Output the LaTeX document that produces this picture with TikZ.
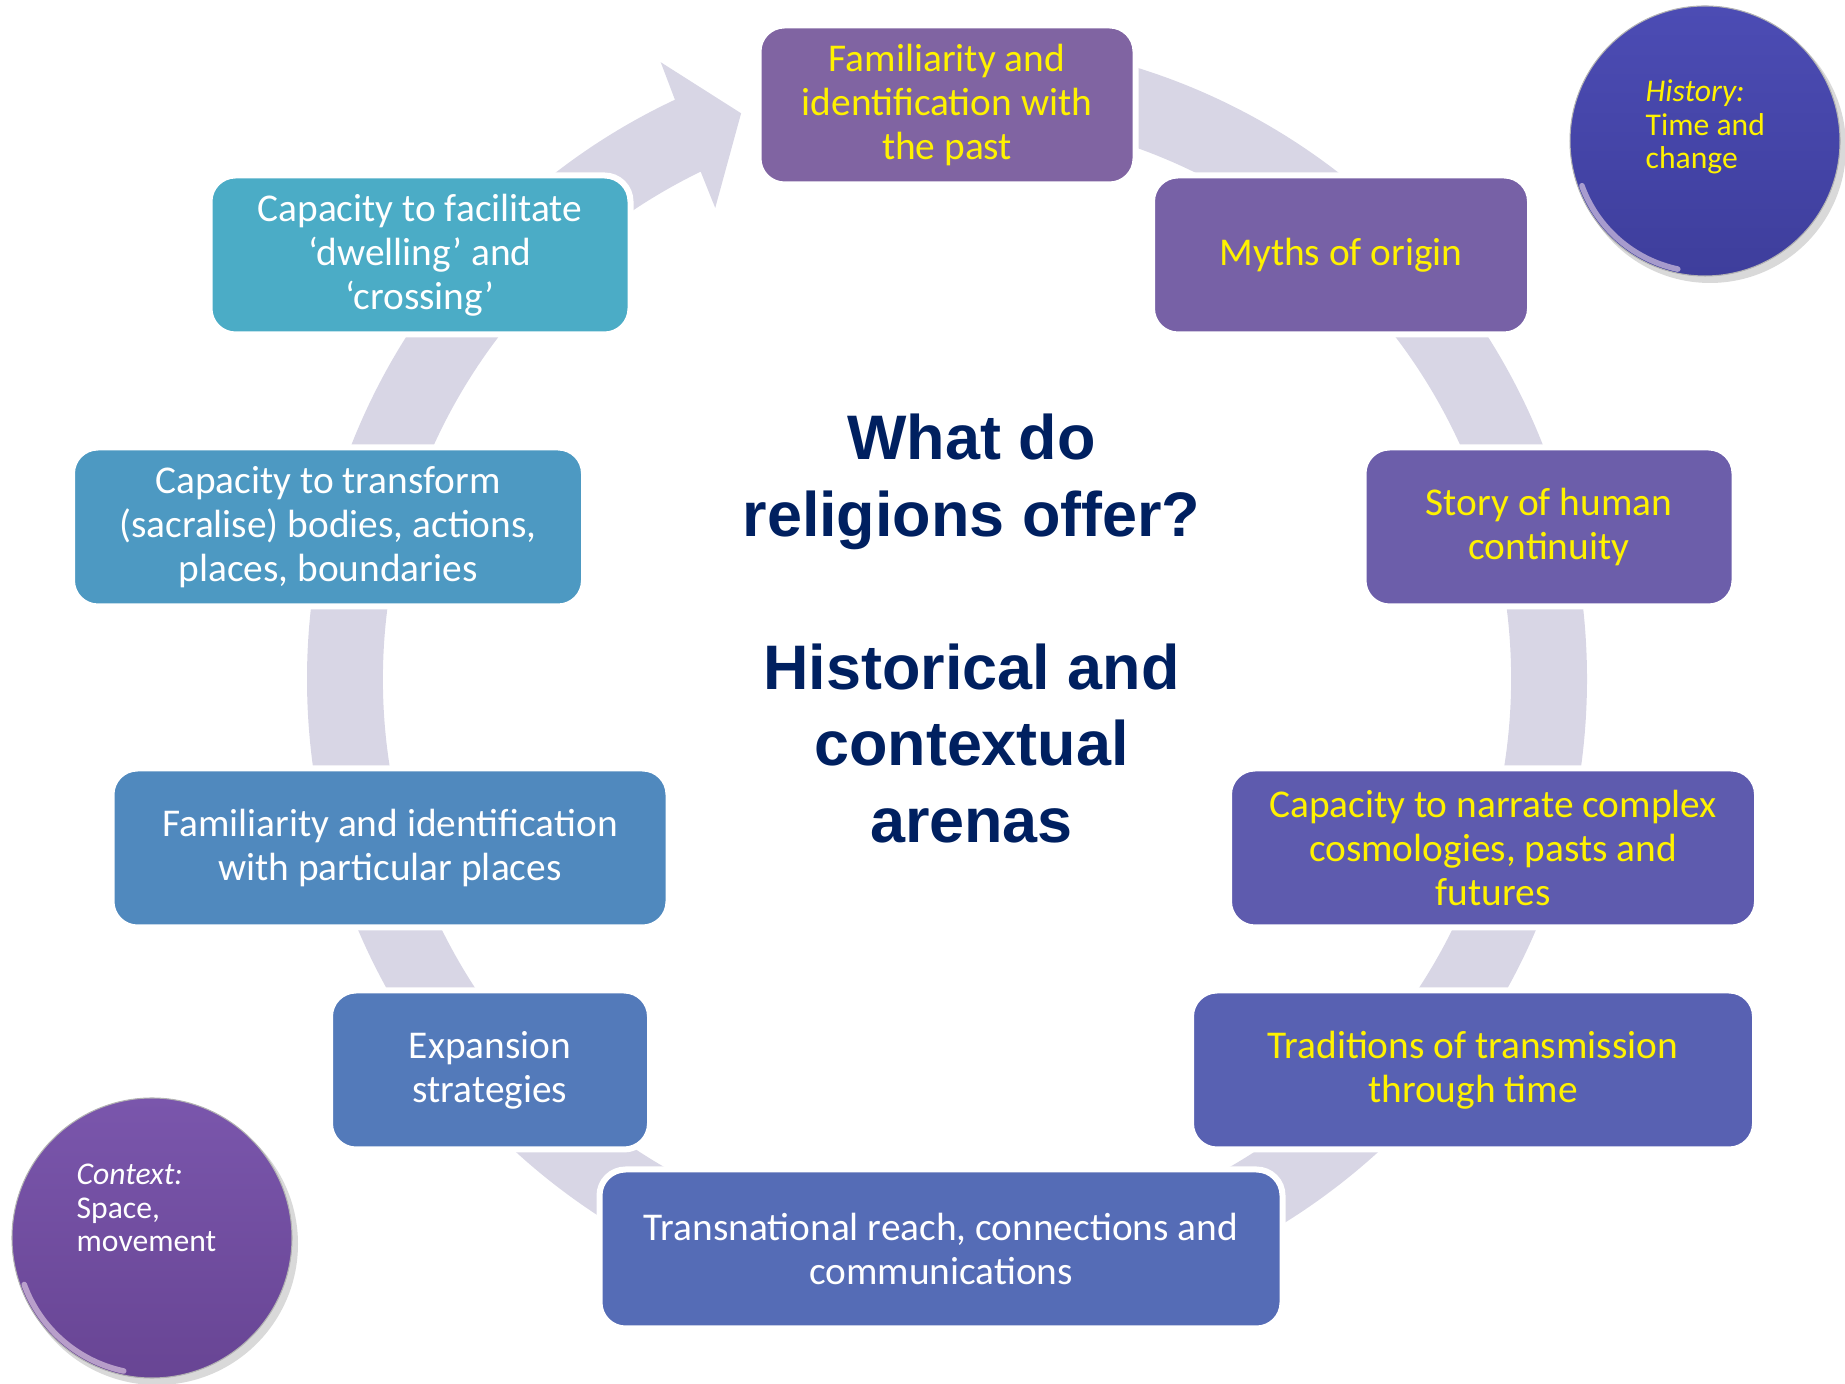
\documentclass[tikz,border=0pt]{standalone}
\usepackage{fontspec}
\setmainfont{Carlito}
\newfontfamily\headfont{Liberation Sans}
\usetikzlibrary{positioning,calc}

\definecolor{ringgrey}{HTML}{D8D6E5}
\definecolor{headnavy}{HTML}{002060}
\definecolor{cardA}{HTML}{8064A2}
\definecolor{cardB}{HTML}{7761A6}
\definecolor{cardC}{HTML}{6C5EAA}
\definecolor{cardD}{HTML}{5E5BAE}
\definecolor{cardE}{HTML}{5861B2}
\definecolor{cardF}{HTML}{556CB6}
\definecolor{cardG}{HTML}{537ABA}
\definecolor{cardH}{HTML}{5089BE}
\definecolor{cardI}{HTML}{4D99C2}
\definecolor{cardJ}{HTML}{4BACC6}
\definecolor{histtop}{HTML}{4C4CB4}
\definecolor{histbot}{HTML}{3E3E9C}
\definecolor{conttop}{HTML}{7A56AC}
\definecolor{contbot}{HTML}{684594}
\newcommand{\ringout}{6.40}
\newcommand{\ringin}{5.64}
\newcommand{\cardfont}{\fontsize{11.2}{12.5}\selectfont}

\begin{document}
\begin{tikzpicture}[
    every node/.style={align=center},
    card/.style={draw=white, line width=0.06cm, rounded corners=0.26cm,
      minimum height=1.59cm, inner sep=2pt, font=\cardfont},
    timecard/.style={card, text=yellow},
    placecard/.style={card, text=white},
    badge/.style={circle, minimum size=#1, inner sep=0pt, draw=black!30, line width=0.3pt},
    rim/.style={white!85!violet, opacity=0.6, line width=1.6pt, line cap=round},
    dropshadow/.style={black, opacity=0.15},
    badgetext/.style={align=left, anchor=west, inner sep=0pt, font=\fontsize{9}{9.5}\selectfont}
  ]
  \useasboundingbox (0,0) rectangle (18.45,13.83);

  % --- ring with its arrow head, drawn first so the cards sit on it ---------
  \coordinate (hub) at (9.47,7.04);
  \fill[ringgrey] ($(hub)+(90:\ringout)$) arc[start angle=90, end angle=-244.84, radius=\ringout]
    -- ($(hub)+(114.9:6.80)$) -- ($(hub)+(110:6.02)$) -- ($(hub)+(116.2:5.25)$)
    -- ($(hub)+(115.9:\ringin)$) arc[start angle=-244.1, end angle=90, radius=\ringin] -- cycle;

  % --- centre title ---------------------------------------------------------
  \node[font=\headfont\bfseries\fontsize{17.9}{21.8}\selectfont, text=headnavy] (title) at (9.715,7.545)
    {What do\\religions offer?\\[21.8pt]Historical and\\contextual\\arenas};

  % --- time side: yellow text -----------------------------------------------
  \node[timecard, fill=cardA, minimum width=3.77cm] (past)     at (9.47,12.78) {Familiarity and\\identification with\\the past};
  \node[timecard, fill=cardB, minimum width=3.78cm] (myths)    at (13.41,11.28) {Myths of origin};
  \node[timecard, fill=cardC, minimum width=3.71cm] (story)    at (15.49,8.56) {Story of human\\continuity};
  \node[timecard, fill=cardD, minimum width=5.28cm] (cosmos)   at (14.93,5.35) {Capacity to narrate complex\\cosmologies, pasts and\\futures};
  \node[timecard, fill=cardE, minimum width=5.64cm] (transmit) at (14.73,3.13) {Traditions of transmission\\through time};

  % --- space side: white text -----------------------------------------------
  \node[placecard, fill=cardF, minimum width=6.83cm] (reach)  at (9.41,1.34) {Transnational reach, connections and\\communications};
  \node[placecard, fill=cardG, minimum width=3.20cm] (expand) at (4.90,3.13) {Expansion\\strategies};
  \node[placecard, fill=cardH, minimum width=5.57cm] (places) at (3.90,5.35) {Familiarity and identification\\with particular places};
  \node[placecard, fill=cardI, minimum width=5.12cm] (sacral) at (3.28,8.56) {Capacity to transform\\(sacralise) bodies, actions,\\places, boundaries};
  \node[placecard, fill=cardJ, minimum width=4.21cm] (dwell)  at (4.20,11.28) {Capacity to facilitate\\‘dwelling’ and\\‘crossing’};

  % --- corner badges ----------------------------------------------------------
  \fill[dropshadow] (17.10,12.36) circle (1.36);
  \node[badge=2.70cm, top color=histtop, bottom color=histbot] (history) at (17.05,12.42) {};
  \draw[rim] ($(history.center)+(200:1.31)$) arc[start angle=200, end angle=258, radius=1.31];
  \node[badgetext, text=yellow] (historytxt) at (16.45,12.56) {\textit{History:}\\Time and\\change};

  \fill[dropshadow] (1.57,1.39) circle (1.41);
  \node[badge=2.80cm, top color=conttop, bottom color=contbot] (context) at (1.52,1.45) {};
  \draw[rim] ($(context.center)+(200:1.36)$) arc[start angle=200, end angle=258, radius=1.36];
  \node[badgetext, text=white] (contexttxt) at (0.76,1.75) {\textit{Context:}\\Space,\\movement};

\end{tikzpicture}
\end{document}
